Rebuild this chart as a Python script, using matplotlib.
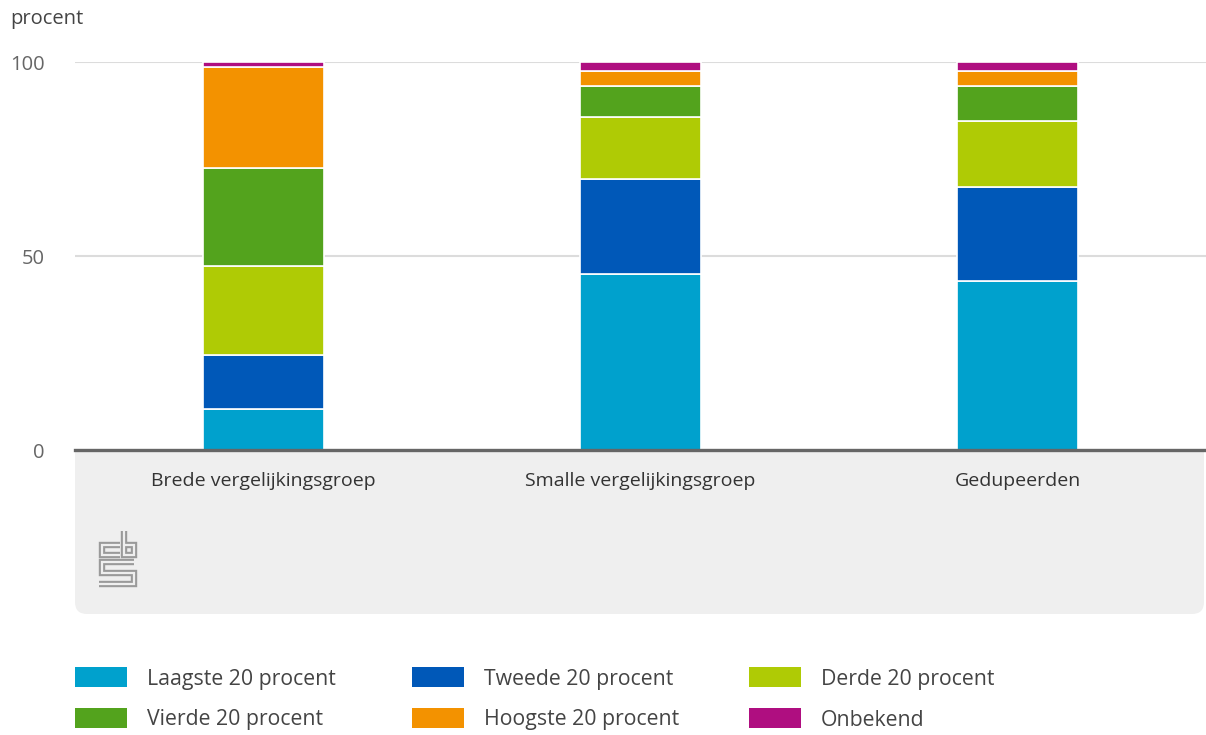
import numpy as np
import matplotlib.pyplot as plt
from matplotlib.patches import FancyBboxPatch, Rectangle
from matplotlib.lines import Line2D

plt.rcParams['font.family'] = ['Open Sans', 'DejaVu Sans']

# data (percentages)
groepen = ['Brede vergelijkingsgroep', 'Smalle vergelijkingsgroep', 'Gedupeerden']
reeksen = ['Laagste 20 procent', 'Tweede 20 procent', 'Derde 20 procent',
           'Vierde 20 procent', 'Hoogste 20 procent', 'Onbekend']
laagste = [10.6, 45.4, 43.6]
tweede = [13.9, 24.4, 24.1]
derde = [22.9, 16.1, 17.1]
vierde = [25.2, 7.9, 9.0]
hoogste = [26.1, 3.8, 3.8]
onbekend = [1.3, 2.4, 2.4]
kleuren = ['#00a1cd', '#0058b8', '#afcb05', '#53a31d', '#f39200', '#af0e80']

W, H = 1206, 735
fig = plt.figure(figsize=(W / 100, H / 100), dpi=100)
inch = fig.dpi_scale_trans

def px(x, y):
    # pixel position (top-left origin) -> inches
    return x / 100, (H - y) / 100

# grey panel under the x axis
x0, y0 = px(75, 614)
panel = FancyBboxPatch((x0, y0), (1204 - 75) / 100, 2.4,
                       boxstyle='round,pad=0,rounding_size=0.12',
                       transform=inch, facecolor='#efefef', edgecolor='none', zorder=-5)
fig.patches.append(panel)

ax = fig.add_axes([75 / W, (H - 450) / H, 1131 / W, 388 / H])
ax.set_facecolor('white')

x = np.arange(len(groepen))
bodem = np.zeros(len(groepen))
for waarden, kleur, naam in zip([laagste, tweede, derde, vierde, hoogste, onbekend], kleuren, reeksen):
    ax.bar(x, waarden, 0.323, bottom=bodem, color=kleur, edgecolor='white',
           linewidth=1.2, label=naam, zorder=3)
    bodem += np.array(waarden)

ax.set_xlim(-0.5, 2.5)
ax.set_ylim(0, 100)
ax.set_yticks([0, 50, 100])
ax.set_xticks(x)
ax.set_xticklabels(groepen, fontsize=14, color='#333333')
ax.tick_params(axis='y', length=0, pad=22, labelsize=14.5, labelcolor='#666666')
ax.tick_params(axis='x', length=0, pad=16)
ax.yaxis.grid(True, color='#dcdcdc', linewidth=1.5, zorder=0)
for s in ['top', 'right', 'left']:
    ax.spines[s].set_visible(False)
ax.spines['bottom'].set_color('#666666')
ax.spines['bottom'].set_linewidth(2.4)
ax.spines['bottom'].set_zorder(4)

fig.text(10 / W, 1 - 19 / H, 'procent', fontsize=14.5, color='#444444', va='center', ha='left')

# cbs logo (simplified)
def logo_lijn(pts):
    xs = [px(a, b)[0] for a, b in pts]
    ys = [px(a, b)[1] for a, b in pts]
    fig.add_artist(Line2D(xs, ys, transform=inch, color='#9a9a9a', linewidth=4.6,
                          solid_joinstyle='miter', solid_capstyle='butt'))
    fig.add_artist(Line2D(xs, ys, transform=inch, color='#efefef', linewidth=1.6,
                          solid_joinstyle='miter', solid_capstyle='butt'))

logo_lijn([(120, 545), (102, 545), (102, 555), (120, 555)])
logo_lijn([(123.5, 531), (123.5, 555), (133.5, 555), (133.5, 545), (123.5, 545)])
logo_lijn([(134, 562), (102, 562), (102, 573), (133.5, 573), (133.5, 584), (99, 584)])

# legend
leg_x = [75, 412, 749]
leg_y = [677, 718]
for i, (naam, kleur) in enumerate(zip(reeksen, kleuren)):
    lx = leg_x[i % 3]
    ly = leg_y[i // 3]
    rx, ry = px(lx, ly + 10)
    fig.patches.append(Rectangle((rx, ry), 0.52, 0.20, transform=inch,
                                 facecolor=kleur, edgecolor='none'))
    tx, ty = px(lx + 72, ly + 2)
    fig.text(tx, ty, naam, transform=inch, fontsize=15.3, color='#444444',
             va='center', ha='left')

fig.savefig('out.png', dpi=100)
